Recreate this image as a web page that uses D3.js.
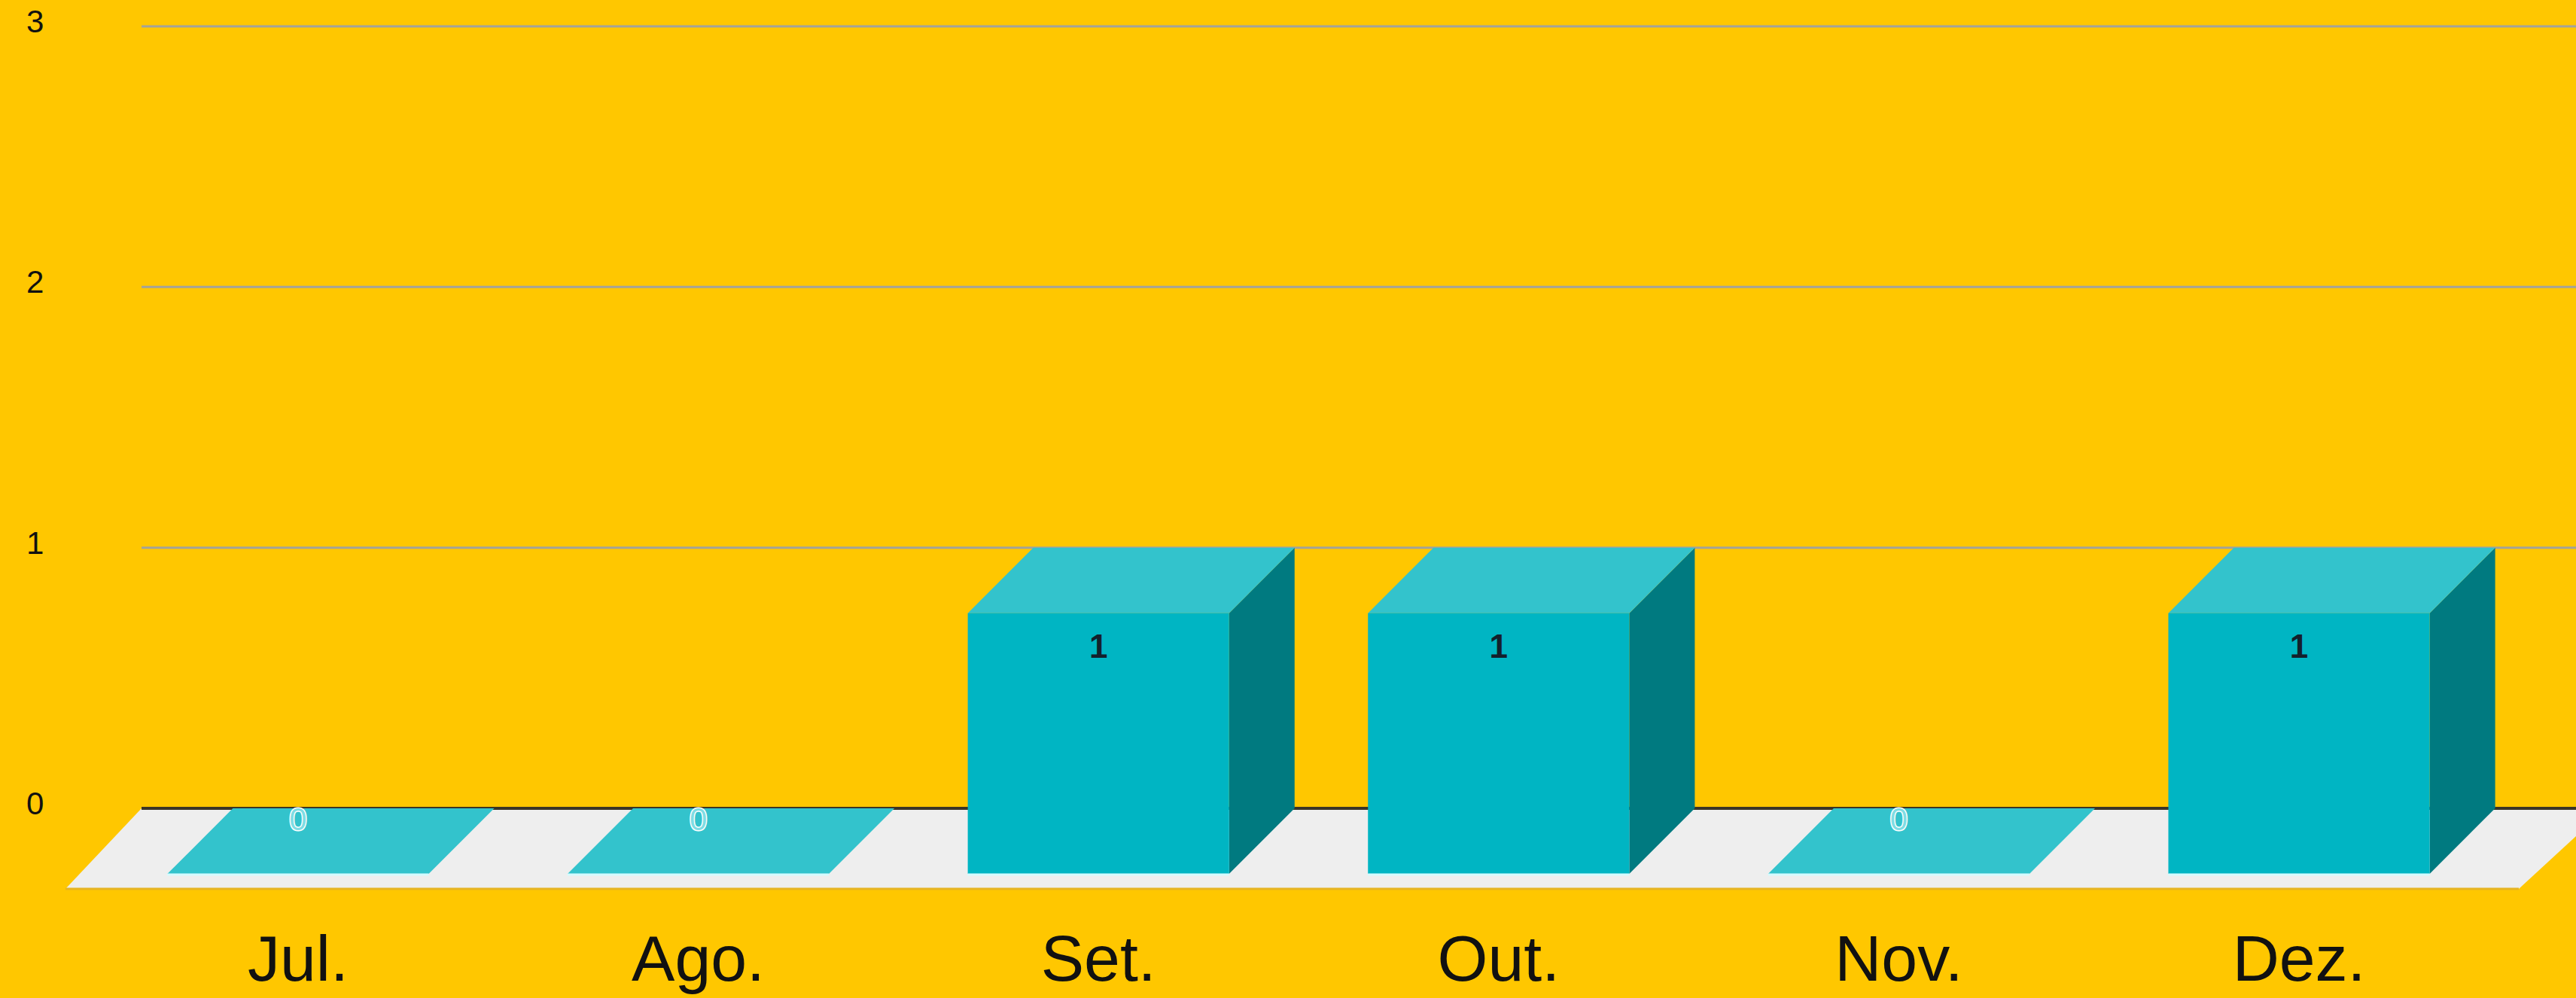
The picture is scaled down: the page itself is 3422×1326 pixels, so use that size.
<!DOCTYPE html>
<html>
<head>
<meta charset="utf-8">
<script src="https://cdn.jsdelivr.net/npm/d3@7"></script>
<style>
body { margin: 0; background: #ffc700; }
</style>
</head>
<body>
<script>
var months = ["Jul.", "Ago.", "Set.", "Out.", "Nov.", "Dez."];
var values = [0, 0, 1, 1, 0, 1];
var yTicks = [0, 1, 2, 3];

var w = 3422;
var h = 1326;
var depth = 87;       // bar depth offset
var floorDepth = 105; // floor depth offset

var yScale = d3.scaleLinear()
				.domain([0, 3])
				.range([1074, 35]);

// front face positions
var xScale = d3.scaleBand()
				.domain(months)
				.range([132, 3318])
				.paddingInner(0.347)
				.paddingOuter(0.17);

var svg = d3.select("body")
			.append("svg")
			.attr("width", w)
			.attr("height", h);

svg.append("rect")
	.attr("width", w)
	.attr("height", h)
	.attr("fill", "#ffc700");

// grid lines
var grid = svg.append("g");
grid.selectAll("line")
	.data(yTicks.filter(function(d){ return d > 0; }))
	.enter()
	.append("line")
	.attr("x1", 188)
	.attr("x2", w)
	.attr("y1", function(d){ return yScale(d); })
	.attr("y2", function(d){ return yScale(d); })
	.attr("stroke", "#a3a39a")
	.attr("stroke-width", 3);

// y labels
svg.append("g").selectAll("text")
	.data(yTicks)
	.enter()
	.append("text")
	.attr("x", 35)
	.attr("y", function(d){ return yScale(d) - 3; })
	.attr("dominant-baseline", "middle")
	.attr("font-family", "Liberation Sans, Arial, sans-serif")
	.attr("font-size", "42px")
	.attr("fill", "#111")
	.text(function(d){ return d; });

// floor
var y0 = yScale(0);
var floorFront = y0 + floorDepth + 2;
var floorPts = [[188, y0], [w + 40, y0], [3346, floorFront], [87, floorFront]];
svg.append("path")
	.attr("d", "M" + floorPts.join("L") + "Z")
	.attr("fill", "#eeeeee");
svg.append("line")
	.attr("x1", 87).attr("x2", 3346)
	.attr("y1", floorFront).attr("y2", floorFront)
	.attr("stroke", "#e6b422")
	.attr("stroke-width", 3);
svg.append("line")
	.attr("x1", 188).attr("x2", w)
	.attr("y1", y0).attr("y2", y0)
	.attr("stroke", "#3b3526")
	.attr("stroke-width", 4);

// bars
var bars = svg.append("g").selectAll("g")
			.data(months)
			.enter()
			.append("g");

bars.each(function(m, i){
	var g = d3.select(this);
	var v = values[i];
	var fl = xScale(m);
	var fr = fl + xScale.bandwidth();
	var fb = y0 + depth;
	var bt = yScale(v);
	var ft = bt + depth;

	if (v === 0) {
		g.append("path")
			.attr("d", "M" + [[fl, fb], [fr, fb], [fr + depth, y0], [fl + depth, y0]].join("L") + "Z")
			.attr("fill", "#33c3cc");
		g.append("line")
			.attr("x1", fl).attr("x2", fr)
			.attr("y1", fb + 1).attr("y2", fb + 1)
			.attr("stroke", "#d4fbff")
			.attr("stroke-width", 3);
	} else {
		g.append("path")
			.attr("d", "M" + [[fr, ft], [fr + depth, bt], [fr + depth, y0], [fr, fb]].join("L") + "Z")
			.attr("fill", "#007a80");
		g.append("path")
			.attr("d", "M" + [[fl, ft], [fr, ft], [fr + depth, bt], [fl + depth, bt]].join("L") + "Z")
			.attr("fill", "#33c3cc");
		g.append("rect")
			.attr("x", fl)
			.attr("y", ft)
			.attr("width", fr - fl)
			.attr("height", fb - ft)
			.attr("fill", "#00b5c3");
		g.append("line")
			.attr("x1", fl).attr("x2", fr)
			.attr("y1", fb + 1).attr("y2", fb + 1)
			.attr("stroke", "#d4fbff")
			.attr("stroke-width", 3);
	}
});

// value labels
bars.append("text")
	.attr("x", function(m){ return xScale(m) + xScale.bandwidth() / 2; })
	.attr("y", function(m, i){ return values[i] === 0 ? y0 + 18 : yScale(values[i]) + depth + 48; })
	.attr("dominant-baseline", "middle")
	.attr("text-anchor", "middle")
	.attr("font-family", "Liberation Sans, Arial, sans-serif")
	.attr("font-size", function(m, i){ return values[i] === 0 ? "42px" : "44px"; })
	.attr("font-weight", function(m, i){ return values[i] === 0 ? "normal" : "bold"; })
	.attr("fill", function(m, i){ return values[i] === 0 ? "#7fdde4" : "#14202c"; })
	.attr("stroke", function(m, i){ return values[i] === 0 ? "#ffffff" : "none"; })
	.attr("stroke-width", 3)
	.attr("paint-order", "stroke")
	.text(function(m, i){ return values[i]; });

// category labels
svg.append("g").selectAll("text")
	.data(months)
	.enter()
	.append("text")
	.attr("x", function(m){ return xScale(m) + xScale.bandwidth() / 2; })
	.attr("y", 1303)
	.attr("text-anchor", "middle")
	.attr("font-family", "Liberation Sans, Arial, sans-serif")
	.attr("font-size", "86px")
	.attr("fill", "#111")
	.text(function(m){ return m; });
</script>
</body>
</html>
